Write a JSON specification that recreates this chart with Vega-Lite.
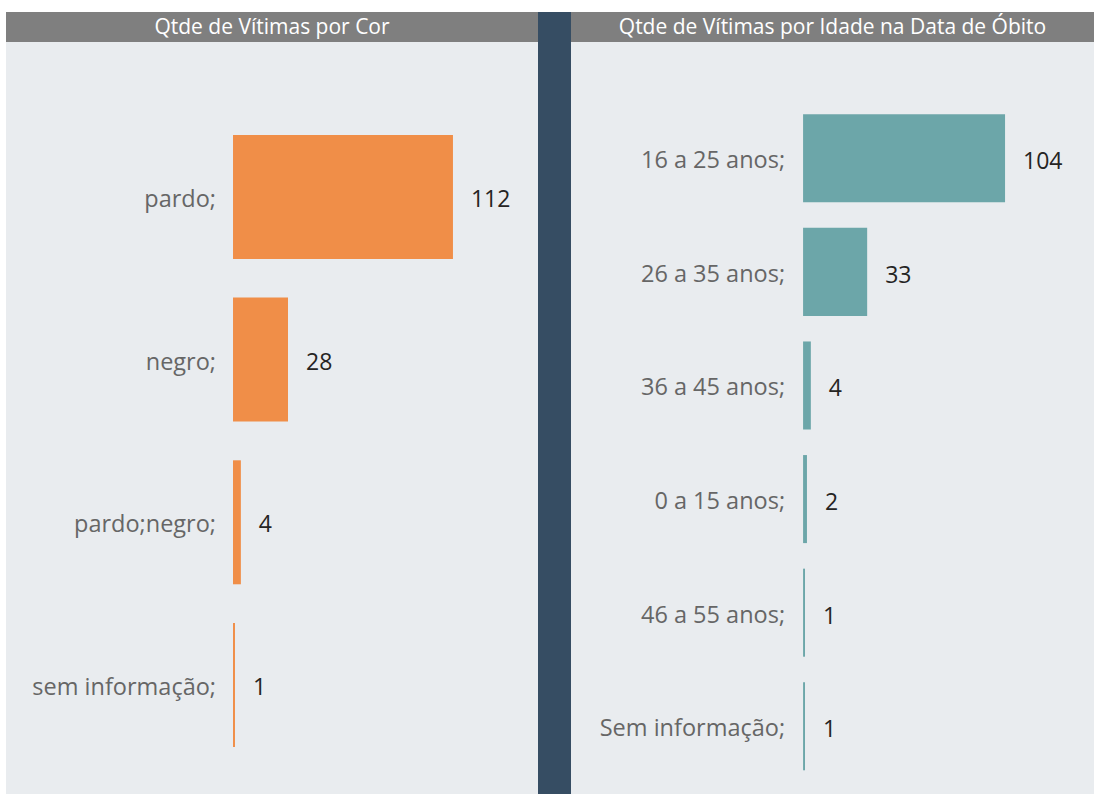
{
  "$schema": "https://vega.github.io/schema/vega-lite/v6.json",
  "background": "white",
  "padding": {"left": 6, "top": 12, "right": 0, "bottom": 0},
  "config": {"view": {"stroke": null}, "font": "Open Sans", "concat": {"spacing": 0}},
  "spacing": 0,
  "hconcat": [
    {
      "spacing": 0,
      "vconcat": [
        {
          "width": 532, "height": 30,
          "view": {"fill": "#7F7F7F"},
          "data": {"values": [{"t": "Qtde de Vítimas por Cor"}]},
          "mark": {"type": "text", "color": "white", "fontSize": 21, "baseline": "middle", "align": "center", "dy": 1},
          "encoding": {"text": {"field": "t"}}
        },
        {
          "width": 532, "height": 752,
          "view": {"fill": "#E9ECEF"},
          "data": {"values": [
            {"cor": "pardo;", "n": 112},
            {"cor": "negro;", "n": 28},
            {"cor": "pardo;negro;", "n": 4},
            {"cor": "sem informação;", "n": 1}
          ]},
          "encoding": {
            "y": {"field": "cor", "type": "nominal", "sort": null, "axis": null,
                  "scale": {"paddingInner": 0.238, "paddingOuter": 0.43, "align": 0.664}}
          },
          "layer": [
            {
              "mark": {"type": "bar", "color": "#F08E48"},
              "encoding": {"x": {"field": "n", "type": "quantitative", "axis": null,
                                  "scale": {"domain": [-115.6, 155.3], "nice": false, "zero": true}}}
            },
            {
              "mark": {"type": "text", "align": "left", "baseline": "middle", "dx": 18, "dy": 3, "fontSize": 23, "color": "#252423"},
              "encoding": {"x": {"field": "n", "type": "quantitative"}, "text": {"field": "n"}}
            },
            {
              "mark": {"type": "text", "align": "right", "baseline": "middle", "dx": -17, "dy": 3, "fontSize": 23.5, "color": "#666666"},
              "encoding": {"x": {"datum": 0, "type": "quantitative"}, "text": {"field": "cor"}}
            }
          ]
        }
      ]
    },
    {
      "width": 33, "height": 782,
      "view": {"fill": "#364D63"},
      "data": {"values": [{}]},
      "mark": {"type": "text", "text": ""},
      "encoding": {}
    },
    {
      "spacing": 0,
      "vconcat": [
        {
          "width": 523, "height": 30,
          "view": {"fill": "#7F7F7F"},
          "data": {"values": [{"t": "Qtde de Vítimas por Idade na Data de Óbito"}]},
          "mark": {"type": "text", "color": "white", "fontSize": 21, "baseline": "middle", "align": "center", "dy": 1},
          "encoding": {"text": {"field": "t"}}
        },
        {
          "width": 523, "height": 752,
          "view": {"fill": "#E9ECEF"},
          "data": {"values": [
            {"idade": "16 a 25 anos;", "n": 104},
            {"idade": "26 a 35 anos;", "n": 33},
            {"idade": "36 a 45 anos;", "n": 4},
            {"idade": "0 a 15 anos;", "n": 2},
            {"idade": "46 a 55 anos;", "n": 1},
            {"idade": "Sem informação;", "n": 1}
          ]},
          "encoding": {
            "y": {"field": "idade", "type": "nominal", "sort": null, "axis": null,
                  "scale": {"paddingInner": 0.225, "paddingOuter": 0.4225, "align": 0.753}}
          },
          "layer": [
            {
              "mark": {"type": "bar", "color": "#6CA6A9"},
              "encoding": {"x": {"field": "n", "type": "quantitative", "axis": null,
                                  "scale": {"domain": [-119.5, 149.8], "nice": false, "zero": true}}}
            },
            {
              "mark": {"type": "text", "align": "left", "baseline": "middle", "dx": 18, "dy": 4, "fontSize": 23, "color": "#252423"},
              "encoding": {"x": {"field": "n", "type": "quantitative"}, "text": {"field": "n"}}
            },
            {
              "mark": {"type": "text", "align": "right", "baseline": "middle", "dx": -18, "dy": 3, "fontSize": 23.5, "color": "#666666"},
              "encoding": {"x": {"datum": 0, "type": "quantitative"}, "text": {"field": "idade"}}
            }
          ]
        }
      ]
    }
  ]
}
